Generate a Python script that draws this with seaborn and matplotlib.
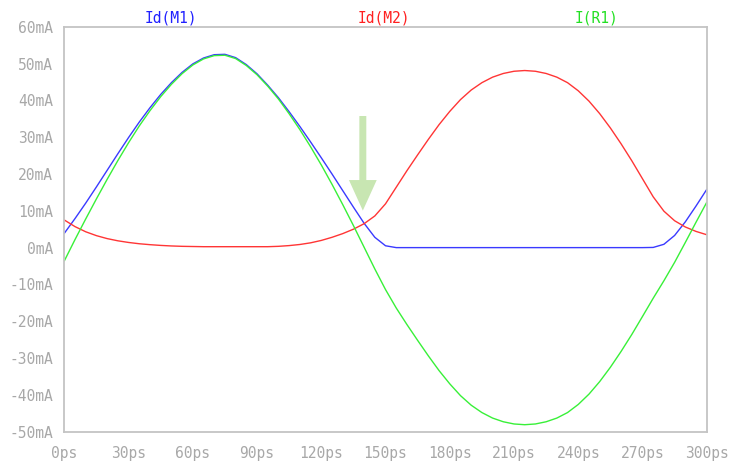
import numpy as np
import pandas as pd
import matplotlib
matplotlib.use("Agg")
import matplotlib.pyplot as plt
import seaborn as sns

sns.set_theme(style="white")
plt.rcParams['font.family'] = ['DejaVu Sans Mono', 'DejaVu Sans']

# time axis in ps (5 ps steps)
time_ps = list(range(0, 301, 5))

# Id(M1) in mA
id_m1 = [3.9, 7.9, 12.1, 16.5, 21.0, 25.5, 29.9, 34.1, 38.0, 41.6,
         44.8, 47.6, 49.9, 51.5, 52.4, 52.5, 51.6, 49.7, 47.2, 44.1,
         40.7, 36.9, 32.9, 28.7, 24.4, 20.0, 15.5, 11.0, 6.6, 2.8,
         0.5, 0.0, 0.0, 0.0, 0.0, 0.0, 0.0, 0.0, 0.0, 0.0,
         0.0, 0.0, 0.0, 0.0, 0.0, 0.0, 0.0, 0.0, 0.0, 0.0,
         0.0, 0.0, 0.0, 0.0, 0.0, 0.05, 0.9, 3.3, 7.0, 11.3,
         15.8]

# Id(M2) in mA
id_m2 = [7.5, 5.7, 4.3, 3.25, 2.45, 1.85, 1.4, 1.05, 0.8, 0.6,
         0.45, 0.35, 0.3, 0.25, 0.25, 0.25, 0.25, 0.25, 0.25, 0.25,
         0.35, 0.55, 0.85, 1.3, 1.95, 2.8, 3.8, 5.0, 6.5, 8.6,
         11.9, 16.4, 20.9, 25.2, 29.4, 33.4, 37.0, 40.2, 42.8, 44.8,
         46.3, 47.3, 47.9, 48.1, 47.9, 47.3, 46.3, 44.8, 42.6, 39.8,
         36.4, 32.5, 28.2, 23.6, 18.7, 13.8, 9.9, 7.3, 5.6, 4.4,
         3.5]

# I(R1) in mA
i_r1 = [-3.6, 2.2, 7.8, 13.25, 18.55, 23.65, 28.5, 33.05, 37.2, 41.0,
        44.35, 47.25, 49.6, 51.25, 52.15, 52.25, 51.35, 49.45, 46.95, 43.85,
        40.35, 36.35, 32.05, 27.4, 22.45, 17.2, 11.7, 6.0, 0.1, -5.8,
        -11.4, -16.4, -20.9, -25.2, -29.4, -33.4, -37.0, -40.2, -42.8, -44.8,
        -46.3, -47.3, -47.9, -48.1, -47.9, -47.3, -46.3, -44.8, -42.6, -39.8,
        -36.4, -32.5, -28.2, -23.6, -18.7, -13.75, -9.0, -4.0, 1.4, 6.9,
        12.3]

names = ["Id(M1)", "Id(M2)", "I(R1)"]
colors = ["#3a3aff", "#ff3535", "#38f038"]
label_colors = ["#2020ff", "#ff2020", "#22e022"]
x_ticks = list(range(0, 301, 30))
y_ticks = list(range(-50, 61, 10))

df = pd.DataFrame({
    "t": time_ps * 3,
    "I": id_m1 + id_m2 + i_r1,
    "trace": sum([[n] * len(time_ps) for n in names], []),
})

fig = plt.figure(figsize=(7.31, 4.63), dpi=100)
ax = fig.add_axes([0.088, 0.0676, 0.8788, 0.8747])
sns.lineplot(data=df, x="t", y="I", hue="trace", palette=dict(zip(names, colors)),
             linewidth=1.0, legend=False, ax=ax, sort=False)

ax.set_xlim(0, 300)
ax.set_ylim(-50, 60)
ax.set_xticks(x_ticks)
ax.set_xticklabels([f"{v}ps" for v in x_ticks])
ax.set_yticks(y_ticks)
ax.set_yticklabels([f"{v}mA" for v in y_ticks])
ax.set_xlabel("")
ax.set_ylabel("")

grey = "#c4c4c4"
for s in ax.spines.values():
    s.set_visible(True)
    s.set_color(grey)
    s.set_linewidth(1.3)
ax.tick_params(axis="both", colors=grey, length=7, width=1.3, direction="out",
               labelsize=10.5, labelcolor="#a8a8a8", pad=1)
ax.tick_params(axis="x", pad=3)

# trace names on top
for name, c, xp in zip(names, label_colors, [171, 384, 597]):
    fig.text(xp / 731, 1 - 18 / 463, name, color=c, fontsize=10.5,
             ha="center", va="center")

# pointer arrow
ax.annotate("", xy=(139.4, 9.3), xytext=(139.4, 36.5),
            arrowprops=dict(arrowstyle="simple,head_length=2.2,head_width=2.0,tail_width=0.5",
                            mutation_scale=10, color="#c8e6b2", lw=0))

fig.savefig("out.png", dpi=100)
